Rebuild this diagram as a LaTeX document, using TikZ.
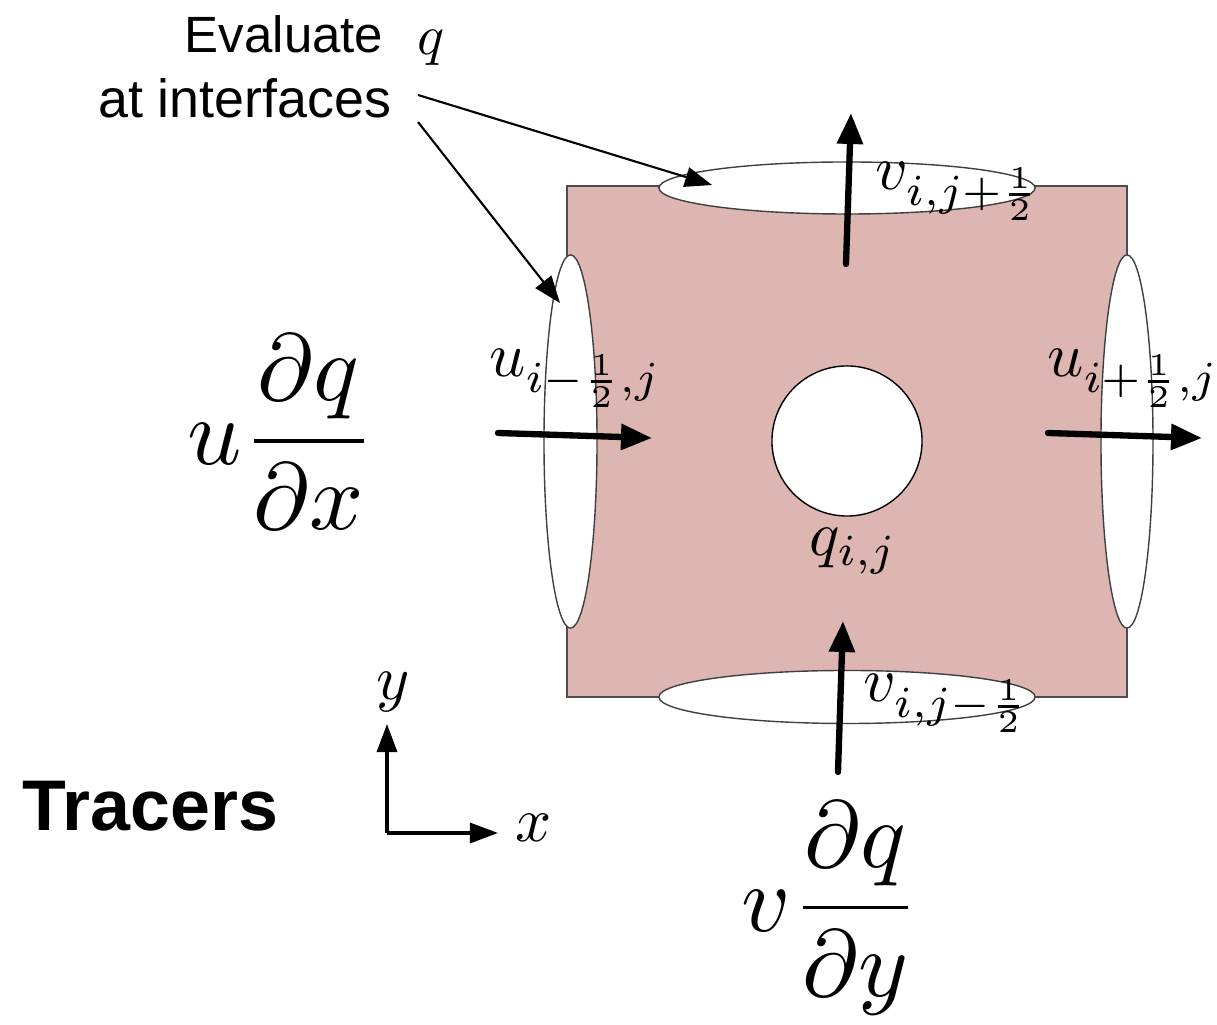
\documentclass[tikz,border=0pt]{standalone}
\usepackage{fontspec}
\newfontfamily\hv{Liberation Sans}
\usetikzlibrary{arrows.meta,shapes.geometric}
\definecolor{cellpink}{HTML}{DDB5B1}
\begin{document}
\begin{tikzpicture}[x=0.01cm,y=-0.01cm,
  flux/.style={line width=1.8pt, line cap=round, -{Triangle[length=0.31cm,width=0.25cm]}},
  pointer/.style={line width=0.6pt, -{Triangle[length=0.27cm,width=0.2cm]}},
  axisarrow/.style={line width=0.9pt, -{Triangle[length=0.28cm,width=0.2cm]}},
  iface/.style={ellipse, draw=black!75, line width=0.4pt, fill=white, inner sep=0pt},
  lbl/.style={inner sep=0pt, anchor=base west, scale=1.8},
  big/.style={inner sep=0pt, anchor=west, scale=2.7}]
\useasboundingbox (0,0) rectangle (1217,1025);
% cell
\node[draw=black!70, line width=0.4pt, fill=cellpink, minimum width=5.6cm, minimum height=5.11cm, inner sep=0pt] (cell) at (847,441.5) {};
% interfaces
\node[iface, minimum width=3.76cm, minimum height=0.52cm] (top) at (847,188) {};
\node[iface, minimum width=3.76cm, minimum height=0.53cm] (bot) at (847,697) {};
\node[iface, minimum width=0.53cm, minimum height=3.73cm] (left) at (570.5,441.5) {};
\node[iface, minimum width=0.52cm, minimum height=3.73cm] (right) at (1127,441.5) {};
% centre
\node[circle, draw=black, line width=0.4pt, fill=white, minimum size=1.5cm, inner sep=0pt] (centre) at (847,441) {};
% flux arrows
\coordinate (ta) at (846,264); \coordinate (tb) at (851,113);
\coordinate (ba) at (838,772); \coordinate (bb) at (843,621);
\coordinate (la) at (498,433); \coordinate (lb) at (652,438);
\coordinate (ra) at (1048,433); \coordinate (rb) at (1202,438);
\draw[flux] (ta) -- (tb);
\draw[flux] (ba) -- (bb);
\draw[flux] (la) -- (lb);
\draw[flux] (ra) -- (rb);
% labels
\node[lbl] (vp) at (874,190) {$v_{i,j+\frac{1}{2}}$};
\node[lbl] (vm) at (862,702) {$v_{i,j-\frac{1}{2}}$};
\node[lbl] (um) at (488,377) {$u_{i-\frac{1}{2},j}$};
\node[lbl] (up) at (1046,377) {$u_{i+\frac{1}{2},j}$};
\node[lbl] (qij) at (808,556) {$q_{i,j}$};
% big terms
\node[big] (ux) at (186,432) {$\displaystyle u\frac{\partial q}{\partial x}$};
\node[big] (vy) at (740,908) {$\displaystyle v\frac{\partial q}{\partial y}$};
% annotation
\node[inner sep=0pt, anchor=base east, font=\hv\fontsize{14.5}{16}\selectfont] (ev) at (384,53) {Evaluate};
\node[inner sep=0pt, anchor=base west, scale=1.6] (evq) at (416,55) {$q$};
\node[inner sep=0pt, anchor=base east, font=\hv\fontsize{15.3}{17}\selectfont] (ai) at (392,118) {at interfaces};
\coordinate (p1) at (418,95); \coordinate (p2) at (418,122);
\coordinate (t1) at (712,185); \coordinate (t2) at (560,303);
\draw[pointer] (p1) -- (t1);
\draw[pointer] (p2) -- (t2);
% axes
\coordinate (o) at (387,833);
\coordinate (yt) at (387,724);
\coordinate (xt) at (498,833);
\draw[axisarrow] (o) -- (yt);
\draw[axisarrow] (o) -- (xt);
\node[inner sep=0pt, scale=1.8] (ylab) at (393,692) {$y$};
\node[inner sep=0pt, scale=1.8] (xlab) at (534,828) {$x$};
% title
\node[inner sep=0pt, anchor=base west, font=\hv\bfseries\fontsize{20.4}{24}\selectfont] (tr) at (22,831) {Tracers};
\end{tikzpicture}
\end{document}
